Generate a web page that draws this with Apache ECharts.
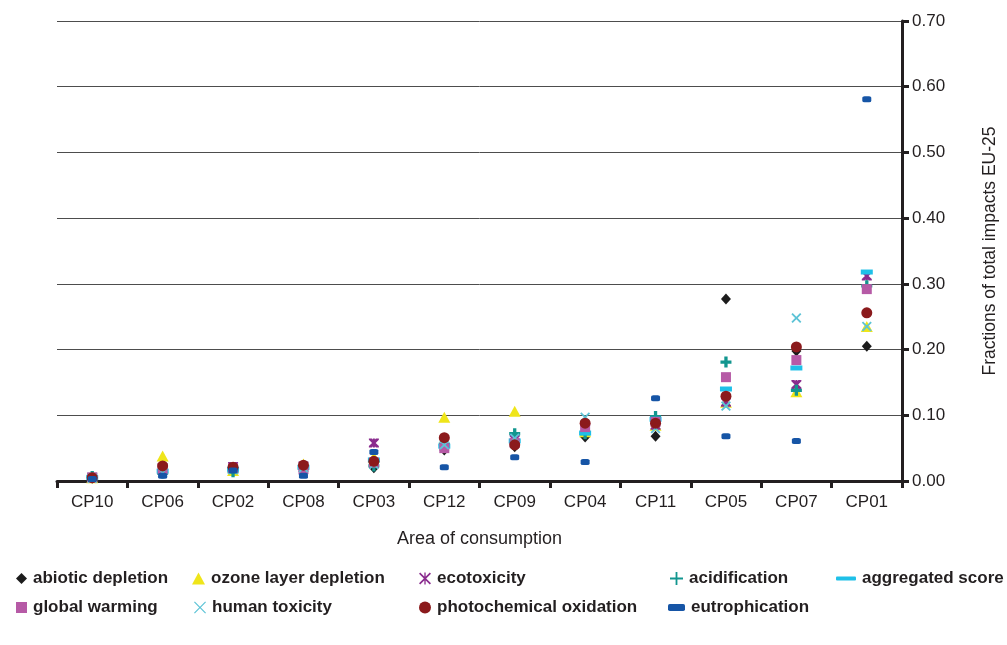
<!DOCTYPE html>
<html>
<head>
<meta charset="utf-8">
<script src="https://cdn.jsdelivr.net/npm/echarts@6/dist/echarts.min.js"></script>
<style>
html,body{margin:0;padding:0;background:#fff;}
#chart{width:1007px;height:645px;}
</style>
</head>
<body>
<div id="chart"></div>
<script>
// ---- data ----
const categories = ['CP10','CP06','CP02','CP08','CP03','CP12','CP09','CP04','CP11','CP05','CP07','CP01'];
const yTickLabels = ['0.00','0.10','0.20','0.30','0.40','0.50','0.60','0.70'];
const abioticDepletion      = [0.004,0.012,0.015,0.015,0.020,0.047,0.052,0.067,0.068,0.277,0.198,0.205];
const ozoneLayerDepletion   = [0.005,0.038,0.016,0.026,0.036,0.097,0.106,0.075,0.085,0.120,0.136,0.235];
const ecotoxicity           = [0.006,0.020,0.022,0.023,0.058,0.060,0.063,0.079,0.085,0.120,0.147,0.312];
const acidification         = [0.007,0.012,0.014,0.020,0.023,0.056,0.072,0.072,0.098,0.181,0.138,0.297];
const aggregatedScore       = [0.005,0.015,0.018,0.021,0.032,0.053,0.061,0.073,0.094,0.140,0.172,0.318];
const globalWarming         = [0.005,0.018,0.020,0.018,0.028,0.050,0.058,0.082,0.090,0.158,0.184,0.292];
const humanToxicity         = [0.004,0.013,0.017,0.020,0.025,0.055,0.065,0.097,0.080,0.114,0.248,0.235];
const photochemicalOxidation= [0.005,0.023,0.021,0.024,0.030,0.066,0.055,0.088,0.088,0.129,0.204,0.256];
const eutrophication        = [0.003,0.008,0.016,0.008,0.044,0.021,0.036,0.029,0.126,0.068,0.061,0.581];

// ---- styles ----
const FONT = "'Liberation Sans Narrow','Liberation Sans',Arial,sans-serif";
const P_ECO = 'path://M0,0L3,0L5,2.6L7,0L10,0L10,1.5L6.8,5L10,8.5L10,10L7,10L5,7.4L3,10L0,10L0,8.5L3.2,5L0,1.5Z M4,0L6,0L6,10L4,10Z';
const P_ECO_LEG = 'path://M0,1L1,0L5,4L9,0L10,1L6,5L10,9L9,10L5,6L1,10L0,9L4,5Z M4.45,0L5.55,0L5.55,10L4.45,10Z';
const P_PLUS = 'path://M3.5,0L6.5,0L6.5,3.5L10,3.5L10,6.5L6.5,6.5L6.5,10L3.5,10L3.5,6.5L0,6.5L0,3.5L3.5,3.5Z';
const P_PLUS_LEG = 'path://M4.3,0L5.7,0L5.7,4.3L10,4.3L10,5.7L5.7,5.7L5.7,10L4.3,10L4.3,5.7L0,5.7L0,4.3L4.3,4.3Z';
const P_X = 'path://M0,1.3L1.3,0L5,3.7L8.7,0L10,1.3L6.3,5L10,8.7L8.7,10L5,6.3L1.3,10L0,8.7L3.7,5Z';
const P_X_THIN = 'path://M0,0.7L0.7,0L5,4.3L9.3,0L10,0.7L5.7,5L10,9.3L9.3,10L5,5.7L0.7,10L0,9.3L4.3,5Z';

const defs = [
  {name:'abiotic depletion', data:abioticDepletion, color:'#1c1c1c', symbol:'diamond', size:[10,11], leg:{x:16,row:0,icon:'diamond',w:11,h:11}},
  {name:'ozone layer depletion', data:ozoneLayerDepletion, color:'#efe51a', symbol:'triangle', size:[12,11], leg:{x:192,row:0,icon:'triangle',w:13,h:12}},
  {name:'ecotoxicity', data:ecotoxicity, color:'#8a2c8e', symbol:P_ECO, size:[10,9], leg:{x:419,row:0,icon:P_ECO_LEG,w:12,h:13}},
  {name:'acidification', data:acidification, color:'#12968f', symbol:P_PLUS, size:[11,11], leg:{x:670,row:0,icon:P_PLUS_LEG,w:13,h:13}},
  {name:'aggregated score', data:aggregatedScore, color:'#1ec0e8', symbol:'rect', size:[12,5], leg:{x:836,row:0,icon:'roundRect',w:20,h:4}},
  {name:'global warming', data:globalWarming, color:'#b65aa6', symbol:'rect', size:[10,10], leg:{x:16,row:1,icon:'rect',w:11,h:11}},
  {name:'human toxicity', data:humanToxicity, color:'#5cc3d6', symbol:P_X, size:[10,10], leg:{x:194,row:1,icon:P_X_THIN,w:12,h:12}},
  {name:'photochemical oxidation', data:photochemicalOxidation, color:'#8b1a1c', symbol:'circle', size:[11,11], leg:{x:419,row:1,icon:'circle',w:12,h:12}},
  {name:'eutrophication', data:eutrophication, color:'#1655a6', symbol:'roundRect', size:[9,6], leg:{x:668,row:1,icon:'roundRect',w:17,h:7}}
];

const rowTop = [570, 599];

const series = defs.map(d => ({
  name: d.name,
  type: 'scatter',
  data: d.data,
  symbol: d.symbol,
  symbolSize: d.size,
  itemStyle: {color: d.color, opacity: 1},
  emphasis: {disabled: true}
}));

const legends = defs.map(d => ({
  left: d.leg.x,
  top: rowTop[d.leg.row],
  orient: 'horizontal',
  padding: 0,
  itemGap: 0,
  itemWidth: d.leg.w,
  itemHeight: d.leg.h,
  selectedMode: false,
  data: [{name: d.name, icon: d.leg.icon, itemStyle: {color: d.color}}],
  textStyle: {fontFamily: FONT, fontSize: 17, fontWeight: 'bold', color: '#231f20', padding: [0,0,0,1]}
}));

const chart = echarts.init(document.getElementById('chart'), null, {renderer: 'canvas'});
chart.setOption({
  animation: false,
  backgroundColor: '#ffffff',
  grid: {left: 57, right: 104, top: 21, bottom: 164, containLabel: false},
  legend: legends,
  xAxis: {
    type: 'category',
    data: categories,
    boundaryGap: true,
    name: 'Area of consumption',
    nameLocation: 'middle',
    nameGap: 49,
    nameTextStyle: {fontFamily: FONT, fontSize: 18, color: '#231f20'},
    axisLine: {lineStyle: {color: '#231f20', width: 3}},
    axisTick: {show: true, alignWithLabel: false, length: 7, lineStyle: {color: '#231f20', width: 3}},
    axisLabel: {fontFamily: FONT, fontSize: 17, color: '#231f20', margin: 13},
    splitLine: {show: false}
  },
  yAxis: {
    type: 'value',
    position: 'right',
    min: 0,
    max: 0.7,
    interval: 0.1,
    name: 'Fractions of total impacts EU-25',
    nameLocation: 'middle',
    nameRotate: 90,
    nameGap: 79,
    nameTextStyle: {fontFamily: FONT, fontSize: 17.5, color: '#231f20'},
    axisLine: {show: true, lineStyle: {color: '#231f20', width: 3}},
    axisTick: {show: true, length: 7, lineStyle: {color: '#231f20', width: 3}},
    axisLabel: {fontFamily: FONT, fontSize: 17, color: '#231f20', margin: 10,
      formatter: (v) => yTickLabels[Math.round(v * 10)] ?? v.toFixed(2)},
    splitLine: {show: true, lineStyle: {color: '#4d4d4d', width: 1}}
  },
  series: series
});
</script>
</body>
</html>
